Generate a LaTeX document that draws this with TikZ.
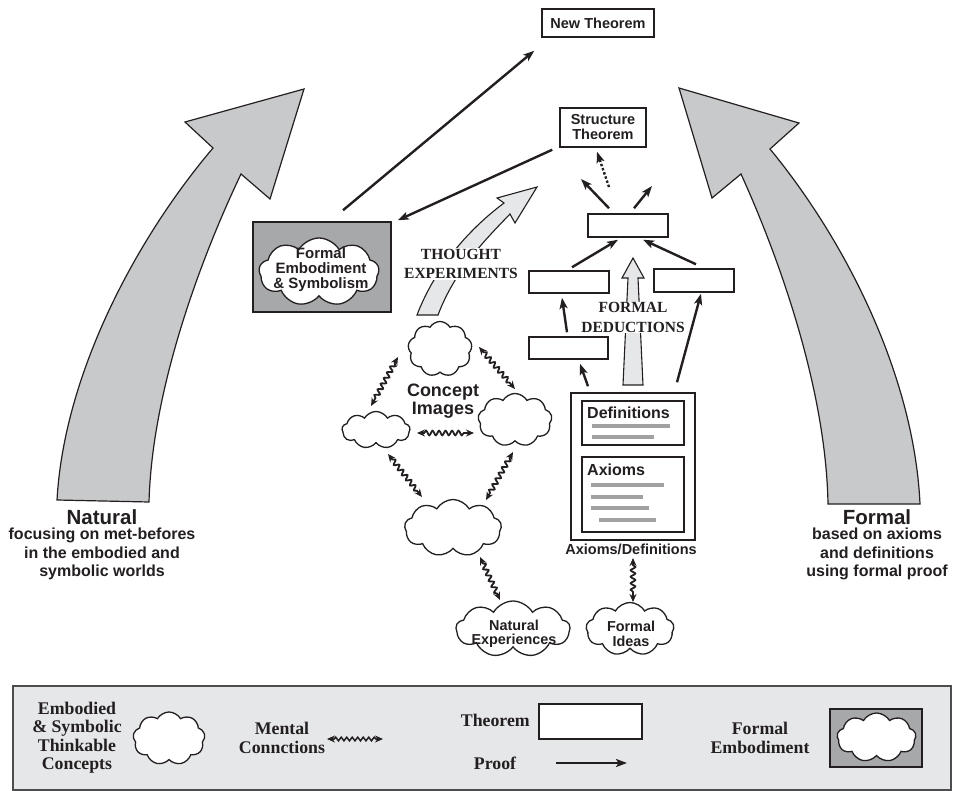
\documentclass[tikz,border=0pt]{standalone}
\usepackage{fontspec}
\setmainfont{Liberation Serif}
\newfontfamily\hvfam{Liberation Sans}
\usetikzlibrary{shapes.symbols,decorations.pathmorphing,arrows.meta}
\definecolor{ink}{HTML}{231F20}
\definecolor{arrowgray}{HTML}{C8C9CB}
\definecolor{paleg}{HTML}{E6E7E8}
\definecolor{darkbox}{HTML}{A7A8AA}
\definecolor{legendbg}{HTML}{E6E7E9}
\definecolor{barline}{HTML}{A0A1A3}
\definecolor{legendline}{HTML}{4D4D4F}
\begin{document}
\begin{tikzpicture}[x=1pt,y=-1pt,
  sanslbl/.style={font=\hvfam\bfseries\fontsize{14.5}{15}\selectfont, align=center, inner sep=0pt, text=ink},
  seriflbl/.style={font=\bfseries\fontsize{15.5}{19.5}\selectfont, align=center, text=ink},
  legendlbl/.style={font=\bfseries\fontsize{17.8}{18.5}\selectfont, align=center, inner sep=0pt, text=ink},
  thm/.style={draw=ink, line width=1.5pt, fill=white, inner sep=0pt},
  proofarrow/.style={draw=ink, line width=2.4pt, -{Stealth[length=11pt,width=8pt,inset=2.5pt]}},
  wavy/.style={draw=ink, line width=1.8pt, {Stealth[length=8pt,width=7pt]}-{Stealth[length=8pt,width=7pt]},
    decorate, decoration={snake, amplitude=2.3pt, segment length=6.5pt, pre length=7pt, post length=7pt}},
  cloudnode/.style={cloud, cloud puffs=9, cloud puff arc=120, cloud ignores aspect, draw=ink, line width=1.3pt, fill=white, inner sep=0pt},
  bigarrow/.style={draw=ink, line width=1.2pt, fill=arrowgray},
  paleArrow/.style={draw=ink, line width=1.1pt, fill=paleg},
  bar/.style={draw=barline, line width=4pt}
]
\useasboundingbox (0,0) rectangle (953,790);

% big side arrows
\draw[bigarrow] (304,89) -- (270,199) -- (241,174) .. controls (200,260) and (152,390) .. (149,502)
  -- (57,500) .. controls (64,375) and (135,240) .. (213,148) -- (185,122) -- cycle;
\draw[bigarrow] (679,88) -- (799,123) -- (770,149) .. controls (845,240) and (914,375) .. (920,504)
  -- (828,504) .. controls (826,390) and (780,260) .. (741,174) -- (712,198) -- cycle;

\node[font=\hvfam\bfseries\fontsize{20.5}{22}\selectfont, text=ink, inner sep=0pt] (natural) at (102,517) {Natural};
\node[font=\hvfam\bfseries\fontsize{16}{18.5}\selectfont, text=ink, align=center, inner sep=0pt] (naturalsub) at (102,554) {focusing on met-befores\\in the embodied and\\symbolic worlds};
\node[font=\hvfam\bfseries\fontsize{20.5}{22}\selectfont, text=ink, inner sep=0pt] (formal) at (877,517) {Formal};
\node[font=\hvfam\bfseries\fontsize{16}{18.5}\selectfont, text=ink, align=center, inner sep=0pt] (formalsub) at (877,554) {based on axioms\\and definitions\\using formal proof};

% thought experiments arrow
\draw[paleArrow] (537,187) -- (515,223) -- (510,214) .. controls (485,240) and (455,270) .. (438,315)
  -- (417,315) .. controls (435,268) and (468,230) .. (504,203) -- (497,198) -- cycle;
\node[seriflbl, fill=white, inner sep=1pt] (thought) at (461,264) {THOUGHT\\EXPERIMENTS};

% formal deductions arrow
\draw[paleArrow] (633,258) -- (644,278) -- (638,278) -- (643,385) -- (623,385) -- (628,278) -- (622,278) -- cycle;
\node[seriflbl, fill=white, inner sep=1pt] (deduct) at (633,317.5) {FORMAL\\DEDUCTIONS};

% theorems
\node[thm, minimum width=112pt, minimum height=28pt, sanslbl] (newthm) at (598,23) {New Theorem};
\node[thm, minimum width=86pt, minimum height=39pt, sanslbl] (struct) at (603,127.5) {Structure\\Theorem};
\node[thm, minimum width=80pt, minimum height=23pt] (t1) at (628,225.5) {};
\node[thm, minimum width=80pt, minimum height=22pt] (t2) at (569,282) {};
\node[thm, minimum width=80pt, minimum height=23pt] (t3) at (694,280.5) {};
\node[thm, minimum width=79pt, minimum height=22pt] (t4) at (568.5,348) {};

% formal embodiment
\node[draw=ink, fill=darkbox, line width=1.5pt, minimum width=138pt, minimum height=90pt, inner sep=0pt] (febox) at (322,267) {};
\node[cloudnode, minimum width=120pt, minimum height=68pt] (fecloud) at (319,272) {};
\node[sanslbl, font=\hvfam\bfseries\fontsize{15}{15}\selectfont] (fetext) at (321,270) {Formal\\Embodiment\\\& Symbolism};

% axioms / definitions
\node[draw=ink, line width=1.5pt, fill=white, minimum width=124pt, minimum height=147pt, inner sep=0pt] (defbox) at (633,466.5) {};
\node[draw=ink, line width=1.5pt, minimum width=102pt, minimum height=44pt, inner sep=0pt] (definner) at (633,423) {};
\node[draw=ink, line width=1.5pt, minimum width=102pt, minimum height=75pt, inner sep=0pt] (axinner) at (633,494.5) {};
\node[anchor=west, font=\hvfam\bfseries\fontsize{16}{17}\selectfont, text=ink, inner sep=0pt] (deftext) at (587,413) {Definitions};
\node[anchor=west, font=\hvfam\bfseries\fontsize{16}{17}\selectfont, text=ink, inner sep=0pt] (axtext) at (587,470) {Axioms};
\draw[bar] (592,426) -- (670,426);
\draw[bar] (592,437) -- (654,437);
\draw[bar] (591,485) -- (664,485);
\draw[bar] (591,497) -- (643,497);
\draw[bar] (591,508) -- (649,508);
\draw[bar] (599,520) -- (656,520);
\node[sanslbl] (axlabel) at (631,549) {Axioms/Definitions};

% concept image clouds
\node[cloudnode, minimum width=64pt, minimum height=55pt] (cA) at (440,349) {};
\node[cloudnode, minimum width=68pt, minimum height=37pt] (cB) at (376,430) {};
\node[cloudnode, minimum width=74pt, minimum height=53pt] (cC) at (515,420) {};
\node[cloudnode, minimum width=97pt, minimum height=57pt] (cD) at (453,528) {};
\node[font=\hvfam\bfseries\fontsize{18}{18}\selectfont, text=ink, align=center, inner sep=0pt] (concept) at (443,401) {Concept\\Images};
\node[cloudnode, minimum width=114pt, minimum height=56pt] (nat) at (513,629) {};
\node[sanslbl, font=\hvfam\bfseries\fontsize{14.4}{14.5}\selectfont] (nattext) at (514,634) {Natural\\Experiences};
\node[cloudnode, minimum width=88pt, minimum height=53pt] (fi) at (630,629) {};
\node[sanslbl, font=\hvfam\bfseries\fontsize{14.4}{14.5}\selectfont] (fitext) at (631,634) {Formal\\Ideas};

% mental connections
\draw[wavy] ([shift={(-42,8)}]cA.center) -- ([shift={(-5,-24)}]cB.center);
\draw[wavy] ([shift={(39,-2)}]cA.center) -- ([shift={(0,-31)}]cC.center);
\draw[wavy] ([shift={(41,3)}]cB.center) -- ([shift={(-41,13)}]cC.center);
\draw[wavy] ([shift={(12,24)}]cB.center) -- ([shift={(-31,-31)}]cD.center);
\draw[wavy] ([shift={(-2,32)}]cC.center) -- ([shift={(33,-28)}]cD.center);
\draw[wavy] ([shift={(27,29)}]cD.center) -- ([shift={(-13,-29)}]nat.center);
\draw[wavy] ([shift={(2,9)}]axlabel.center) -- ([shift={(3,-27)}]fi.center);

% proofs
\coordinate (freeL) at (581,179);
\coordinate (freeR) at (652,186);
\coordinate (dotStart) at (609,187);
\draw[proofarrow] ([shift={(21,-11)}]febox.north) -- ([shift={(-7,13)}]newthm.south west);
\draw[proofarrow] ([shift={(-7,2)}]struct.south west) -- ([shift={(6,-1)}]febox.north east);
\draw[proofarrow] ([shift={(3,-3)}]t2.north) -- ([shift={(-10,2)}]t1.south);
\draw[proofarrow] ([shift={(2,-4)}]t3.north) -- ([shift={(15,2)}]t1.south);
\draw[proofarrow] ([shift={(-1.5,-4)}]t4.north) -- ([shift={(-7,4)}]t2.south);
\draw[proofarrow] ([shift={(-45,-6)}]defbox.north) -- ([shift={(11.5,4)}]t4.south);
\draw[proofarrow] ([shift={(44,-10)}]defbox.north) -- ([shift={(7,1)}]t3.south);
\draw[proofarrow] ([shift={(-19,-5)}]t1.north) -- (freeL);
\draw[proofarrow] ([shift={(6,-5)}]t1.north) -- (freeR);
\draw[proofarrow, dotted] (dotStart) -- ([shift={(-6,4)}]struct.south);

% legend
\node[draw=legendline, line width=1.8pt, fill=legendbg, minimum width=938pt, minimum height=104pt, inner sep=0pt] (legend) at (482,738) {};
\node[legendlbl] (lgthink) at (77,737.5) {Embodied\\\& Symbolic\\Thinkable\\Concepts};
\node[cloudnode, minimum width=72pt, minimum height=53pt] (lgcloud) at (169,738.5) {};
\node[legendlbl] (lgmental) at (282,738) {Mental\\Connctions};
\coordinate (lgw1) at (327,739);
\coordinate (lgw2) at (383,739);
\draw[wavy, line width=1.5pt, decoration={snake, amplitude=1.8pt, segment length=5.5pt, pre length=7pt, post length=7pt}] (lgw1) -- (lgw2);
\node[legendlbl, anchor=east] (lgthm) at (530,720) {Theorem};
\node[thm, minimum width=103pt, minimum height=35pt] (lgbox) at (590.5,721.5) {};
\node[legendlbl] (lgproof) at (495,763) {Proof};
\coordinate (lgp1) at (556,763);
\coordinate (lgp2) at (627,763);
\draw[proofarrow] (lgp1) -- (lgp2);
\node[legendlbl] (lgformal) at (760,738) {Formal\\Embodiment};
\node[draw=ink, fill=darkbox, line width=1.5pt, minimum width=92pt, minimum height=58pt, inner sep=0pt] (lgdark) at (876,738) {};
\node[cloudnode, minimum width=79pt, minimum height=49pt] (lgcloud2) at (876.5,737.5) {};
\end{tikzpicture}
\end{document}
